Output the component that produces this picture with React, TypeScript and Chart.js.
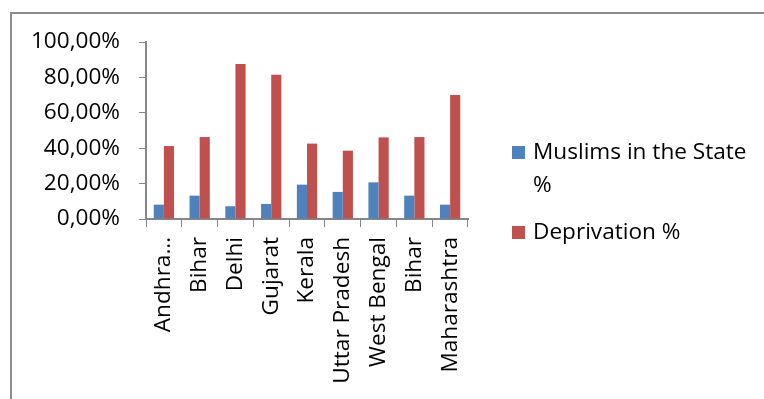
import React, { useEffect, useRef } from "react";
import { Chart, registerables } from "chart.js";

Chart.register(...registerables);

const categories = ["Andhra…", "Bihar", "Delhi", "Gujarat", "Kerala", "Uttar Pradesh", "West Bengal", "Bihar", "Maharashtra"];
const muslimsPct = [8.1, 13.2, 7.2, 8.5, 19.4, 15.3, 20.7, 13.2, 8.1];
const deprivationPct = [41.2, 46.3, 87.6, 81.5, 42.6, 38.6, 46.1, 46.3, 70.1];
const seriesLabels = ["Muslims in the State %", "Deprivation %"];
const legendLines = [["Muslims in the State", "%"], ["Deprivation %"]];
const colors = ["#4F81BD", "#C0504D"];

const FONT = "'Open Sans', sans-serif";
const FS = 22.6;

const framePlugin = {
  id: "frame",
  beforeDraw(chart: any) {
    const ctx = chart.ctx;
    ctx.save();
    ctx.fillStyle = "#ffffff";
    ctx.fillRect(0, 0, chart.width, chart.height);
    ctx.strokeStyle = "#8c8c8c";
    ctx.lineWidth = 2;
    ctx.beginPath();
    ctx.moveTo(11, chart.height + 2);
    ctx.lineTo(11, 13);
    ctx.lineTo(chart.width + 2, 13);
    ctx.stroke();
    ctx.restore();
  },
};

const legendPlugin = {
  id: "customLegend",
  afterDraw(chart: any) {
    const ctx = chart.ctx;
    ctx.save();
    ctx.font = `${FS}px ${FONT}`;
    ctx.fillStyle = "#000000";
    ctx.textBaseline = "alphabetic";
    const x0 = 512;
    const baselines = [[159, 192], [239]];
    legendLines.forEach((lines, i) => {
      const bl = baselines[i];
      ctx.fillStyle = colors[i];
      ctx.fillRect(x0, bl[0] - 13, 13, 13);
      ctx.fillStyle = "#000000";
      lines.forEach((t, j) => ctx.fillText(t, x0 + 21, bl[j]));
    });
    ctx.restore();
  },
};

export default function App() {
  const ref = useRef<HTMLCanvasElement | null>(null);
  useEffect(() => {
    if (!ref.current) return;
    const chart = new Chart(ref.current, {
      type: "bar",
      data: {
        labels: categories,
        datasets: [
          { label: seriesLabels[0], data: muslimsPct, backgroundColor: colors[0], categoryPercentage: 0.567, barPercentage: 1 },
          { label: seriesLabels[1], data: deprivationPct, backgroundColor: colors[1], categoryPercentage: 0.567, barPercentage: 1 },
        ],
      },
      options: {
        animation: false,
        responsive: false,
        layout: { padding: { top: 42, right: 296, left: 0, bottom: 0 } },
        plugins: { legend: { display: false }, tooltip: { enabled: false }, title: { display: false } },
        scales: {
          x: {
            grid: { drawOnChartArea: false, drawTicks: true, tickLength: 8, color: "#868686", offset: true },
            border: { color: "#868686", width: 2 },
            ticks: { minRotation: 90, maxRotation: 90, autoSkip: false, padding: 10, color: "#000000", font: { family: FONT, size: FS } },
            afterFit(scale: any) { scale.height = 180; },
          },
          y: {
            min: 0,
            max: 100,
            grid: { drawOnChartArea: false, drawTicks: true, tickLength: 7, color: "#868686" },
            border: { color: "#868686", width: 2 },
            ticks: {
              stepSize: 20,
              padding: 19,
              color: "#000000",
              font: { family: FONT, size: FS },
              callback: (v: any) => Number(v).toFixed(2).replace(".", ",") + "%",
            },
            afterFit(scale: any) { scale.width = 146; },
          },
        },
      },
      plugins: [framePlugin, legendPlugin],
    });
    return () => chart.destroy();
  }, []);
  return (
    <div style={{ position: "fixed", left: 0, top: 0, width: 764, height: 399, background: "#fff" }}>
      <canvas ref={ref} width={764} height={399} style={{ display: "block" }} />
    </div>
  );
}
